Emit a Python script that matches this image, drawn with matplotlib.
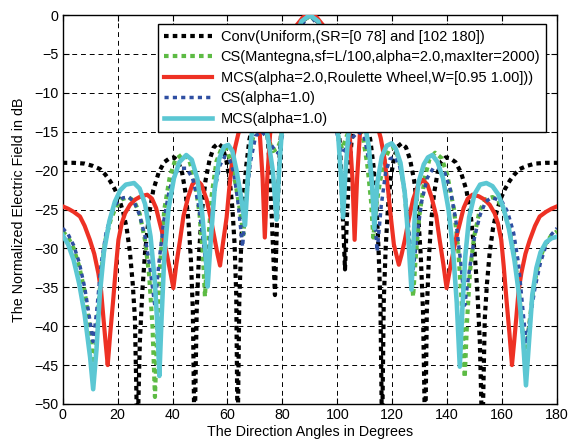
import matplotlib
matplotlib.use("Agg")
import matplotlib.pyplot as plt

plt.rcParams['font.family'] = ['Liberation Sans', 'DejaVu Sans']

# ---- data (angle in degrees, normalized field in dB) ----
conv_deg = [0, 4, 8, 11, 13.6, 15.5, 17.2, 19, 20.5, 22, 23.3, 24.5, 25.5, 26.3, 27.2, 28.1, 29, 30, 31.5, 33, 35, 37, 39, 40.5, 42, 43.5, 44.8, 45.8, 46.7, 47.4, 48, 48.8, 49.6, 50.6, 52, 53.5, 55, 56.6, 58.2, 59.6, 60.8, 61.8, 62.6, 63.2, 63.7, 64.3, 65, 65.8, 66.8, 68, 70, 72, 74.5, 75.3, 75.9, 76.6, 77.3, 78, 79, 80.5, 83, 86, 90,
            94, 97, 99.5, 101, 101.8, 102.8, 103.5, 104.5, 105.5, 108, 110, 112, 113.2, 114.2, 115, 115.7, 116.3, 116.9, 117.6, 118.4, 119.4, 120.7, 122, 123.4, 125, 126.5, 128, 129.4, 130.4, 131.2, 132, 132.6, 133.3, 134.2, 135.2, 136.5, 138, 139.5, 141, 143, 145, 147, 148.5, 150, 151, 151.9, 152.8, 153.7, 154.5, 155.5, 156.7, 158, 159.5, 161, 162.8, 164.5, 166.4, 169, 172, 176, 180]
conv_db = [-19.0, -19.0, -19.1, -19.4, -19.8, -20.5, -21.3, -22.4, -23.6, -25.3, -27.4, -30.5, -34.5, -39, -55, -42, -35.5, -30.5, -25.5, -22.5, -20.2, -18.9, -18.4, -18.3, -18.8, -20.3, -23, -26.5, -31.5, -38, -55, -38, -31, -25.5, -21.3, -18.6, -17, -16.5, -17, -18.7, -21.2, -24.8, -29.5, -36, -55, -37, -29.5, -23.8, -19.5, -16, -13, -12.8, -15, -19, -24, -30, -36.0, -27, -18, -10, -4.5, -1.2, 0,
           -1.2, -4.5, -10, -17, -24, -32.7, -26, -19, -15, -12.8, -13, -16, -19.5, -24, -30, -37, -55, -37, -30, -25, -21, -18.3, -16.9, -16.5, -17, -18.6, -21.3, -25.5, -31, -38, -55, -38, -31.5, -26.5, -23, -20.3, -18.8, -18.3, -18.4, -18.9, -20.2, -22.5, -25.5, -30.5, -35.5, -42, -55, -39, -34.5, -30.5, -27.4, -25.3, -23.6, -22.4, -21.3, -20.5, -19.8, -19.4, -19.1, -19.0, -19.0]

csm_deg = [0, 2, 4, 6, 8, 9.8, 11.3, 12.5, 14, 15.5, 17.5, 19.5, 21.5, 23.9, 26, 28, 30, 31.5, 32.7, 33.6, 34.5, 35.5, 37, 39, 41, 43.9, 46, 48, 49.8, 51, 51.8, 52.8, 54.3, 56, 58, 59.5, 61.3, 63, 64.5, 65.8, 67, 68.5, 70.5, 72.5, 74.5, 76.5, 78.2, 79.5, 81, 84, 87, 90,
           93, 96, 99, 100.5, 101.8, 103.5, 105.5, 107.5, 109.5, 111, 112.3, 113.1, 114.2, 115.6, 117.3, 119, 120.8, 122.5, 124.2, 125.8, 126.8, 127.6, 128.6, 129.8, 131.8, 133.5, 135.6, 138, 140, 142.5, 144, 145.3, 146.4, 147.3, 148.3, 149.8, 151.8, 154, 156.5, 158.5, 160.5, 162.5, 164.5, 166, 167.3, 168.5, 169.8, 171.5, 173.5, 176, 178, 180]
csm_db = [-27.8, -28.6, -30, -32.3, -35.5, -40, -46, -40, -33, -29, -26.3, -24.6, -23.7, -23.4, -23.9, -25.5, -29, -33.5, -40, -49.1, -40, -32, -25, -20.8, -18.6, -17.8, -18.6, -21, -25.5, -30.5, -36.2, -30, -23, -18.8, -17, -17.2, -18.8, -21.8, -25, -28.2, -22.5, -17, -14, -14, -15.5, -17.5, -17.2, -16, -11, -5, -1.2, 0,
          -1.2, -5, -11, -16, -17.2, -15.5, -14, -14, -16, -19.5, -24, -28.6, -24.5, -21.3, -18.6, -17.2, -17, -18.6, -22, -27.5, -32, -36.2, -31, -26, -21, -18.6, -17.7, -18.4, -20.5, -25, -30, -37, -46.6, -39, -33, -28.5, -25.2, -23.7, -23.4, -23.8, -25, -27.3, -31, -35, -40, -45, -40, -35, -31.5, -29.3, -28.3, -27.8]

mcs2_deg = [0, 2, 4, 6.3, 8, 9.9, 11.5, 13, 14, 14.8, 15.6, 16.4, 17.3, 18.4, 19.4, 20.3, 21.5, 22.7, 24.5, 26.5, 28.5, 30.8, 32.5, 34, 35.4, 36.7, 37.8, 38.9, 40.3, 41.4, 42.7, 44, 45.7, 47.2, 48.8, 50.5, 52.4, 54, 55.4, 56.4, 57.3, 58.3, 59.7, 60.6, 61.5, 62.8, 64, 66, 68, 70, 71.8, 72.8, 73.6, 74.5, 75.5, 77, 79, 82, 85, 87.5, 90,
            92.5, 95, 98, 101, 103, 104.5, 105.5, 106.3, 107.2, 108.2, 110, 112, 114, 115.8, 117.2, 118.5, 119.5, 120.6, 122.4, 123.4, 124.6, 126, 127.6, 129.5, 131.2, 132.8, 134.3, 136, 137.3, 138.6, 139.8, 141.1, 142.2, 143.3, 144.6, 146, 147.5, 149.2, 151.5, 153.5, 155.5, 157.3, 158.5, 159.7, 160.6, 161.6, 162.7, 163.6, 164.4, 165.2, 166, 167, 168.5, 170.1, 172, 173.7, 176, 178, 180]
mcs2_db = [-24.6, -24.9, -25.3, -25.9, -27.1, -28.9, -30.7, -33.2, -35.5, -38.8, -42, -45, -41, -36.6, -32.3, -28.9, -26.8, -25.5, -24.4, -23.7, -23.3, -23.1, -23.6, -24.8, -26.8, -28.6, -30.5, -32.5, -35.1, -32, -29, -25.8, -23.4, -21.8, -21.2, -21.8, -23.7, -26.3, -28.9, -30.8, -32.2, -29.5, -26, -22.5, -19.5, -17, -15.2, -13, -12.5, -13.5, -15.4, -21, -28.6, -21, -15.4, -11, -7.5, -3.8, -1.4, -0.3, 0,
           -0.3, -1.4, -3.8, -7.5, -11, -15.4, -21, -28.9, -21, -15.4, -12.5, -12.5, -13.5, -15.8, -18.5, -22.5, -26, -29.5, -32.1, -30.8, -28.9, -26.3, -23.7, -21.8, -21.2, -21.8, -23.4, -25.8, -29, -32, -35.1, -32.5, -30.5, -28.6, -26.8, -24.8, -23.6, -23.1, -23.3, -23.7, -24.4, -25.5, -26.8, -28.9, -32.3, -36.6, -41, -45, -42, -38.8, -35.5, -33.2, -30.7, -28.9, -27.1, -25.9, -25.3, -24.9, -24.6]

cs1_deg = [0, 2, 4, 6, 8, 9.8, 11.1, 12.4, 14, 15.8, 18, 20, 22, 24, 26, 28, 30, 31.8, 33.6, 35, 36.8, 38.8, 41, 43, 45.1, 47.3, 49.3, 51, 52.6, 54, 55.6, 57.3, 59, 60.7, 62.3, 63.8, 65.5, 66.8, 68.3, 70.3, 72.5, 74.5, 76.5, 78.5, 80, 82, 84.5, 87, 90,
           93, 95.5, 98, 100, 101.6, 103.5, 105.5, 107.5, 109.7, 111.7, 113.2, 114.5, 116, 117.6, 119.2, 120.9, 122.6, 124.3, 125.9, 127.4, 129, 130.7, 132.7, 134.9, 137, 139.2, 141.2, 143.2, 145, 146.4, 148.2, 150, 152, 154, 156, 157.4, 160, 162, 164.2, 166, 167.6, 168.8, 170.2, 172, 174, 176, 178, 180]
cs1_db = [-27.4, -28.2, -29.6, -31.8, -35, -39, -42, -38, -32, -28, -25.3, -24, -23.5, -23.4, -24, -25.7, -28.5, -32.5, -37.5, -32, -26.5, -22.5, -20.3, -19.7, -19.7, -21, -24, -28.5, -33.5, -27, -22, -19.3, -18.2, -18.5, -20.2, -24, -29.8, -24, -19, -15.5, -15, -15.8, -17, -17.8, -15.5, -10, -5, -1.3, 0,
          -1.3, -5, -10, -15.5, -17.8, -17, -15.8, -15, -15.5, -19, -24, -30.4, -24.5, -20.2, -18.5, -18.2, -19.3, -22, -27, -33.5, -28.5, -24, -21, -19.7, -19.7, -20.3, -22.5, -26.5, -32, -37.3, -32.5, -28.5, -25.7, -24, -23.5, -23.6, -24, -25.3, -28, -32, -38, -42.3, -39, -35, -31.8, -29.6, -28.2, -27.4]

mcs1_deg = [0, 2, 4, 6, 8, 10, 11.1, 12.3, 13.5, 15, 17, 19, 21, 23, 26, 28, 30, 32, 33.5, 34.5, 35.2, 36, 37, 38.5, 40.5, 42.5, 45, 47, 49, 50.8, 52, 52.8, 53.8, 55.3, 57, 58.8, 60.3, 61.8, 63.3, 65, 66.4, 67.5, 68.8, 70.5, 72.5, 74.5, 76.5, 77.9, 78.8, 79.7, 81, 83, 85, 87, 90,
            93, 95, 97, 99, 100.3, 101.2, 102.1, 103, 104, 106, 108, 110, 111.5, 112.6, 113.5, 114.6, 116.2, 118, 119.8, 121.3, 123, 124.6, 125.9, 127, 128.3, 129.6, 131.5, 133, 134.6, 136.5, 138.5, 140.5, 142.2, 143.5, 144.6, 145.5, 146.6, 148, 150, 152, 154.3, 156.5, 158.5, 160.5, 162.5, 164.5, 166, 167.5, 168.7, 169.8, 171, 172.5, 174, 176, 178, 180]
mcs1_db = [-28.3, -29.5, -31.5, -34.5, -38.5, -44, -48.1, -43, -36, -30.5, -26.5, -24, -22.5, -21.8, -21.6, -22.3, -24.3, -28.5, -34, -40, -46.4, -39, -31, -25, -21, -18.9, -18.0, -18.6, -21, -25.5, -30.5, -34.9, -29.5, -22.5, -18.5, -16.9, -16.7, -17.5, -20, -23.5, -27.0, -20.5, -15.4, -12.8, -12.8, -15.2, -20, -26.3, -20, -15.4, -10, -5.5, -2.5, -0.8, 0,
           -0.8, -2.5, -5.5, -10, -15.4, -20, -26.0, -20, -15.5, -12.5, -12.5, -14, -17, -21.5, -27.4, -21.5, -18.2, -16.8, -16.5, -17.2, -19, -23, -29, -35.3, -25.1, -21.5, -19.2, -18.3, -18.0, -18.9, -21, -25, -30.5, -37, -45.2, -38, -31, -26, -23, -21.8, -21.6, -22, -23, -24.8, -27.5, -31.5, -35.5, -41, -47.6, -42, -36, -32.5, -30.5, -29.2, -28.7, -28.5]

labels = ['Conv(Uniform,(SR=[0 78] and [102 180])',
          'CS(Mantegna,sf=L/100,alpha=2.0,maxIter=2000)',
          'MCS(alpha=2.0,Roulette Wheel,W=[0.95 1.00]))',
          'CS(alpha=1.0)',
          'MCS(alpha=1.0)']
x_ticks = list(range(0, 181, 20))
y_ticks = list(range(-50, 1, 5))

fig = plt.figure(figsize=(5.74, 4.44), dpi=100)
ax = fig.add_axes([0.1092, 0.0901, 0.9704 - 0.1092, 0.9662 - 0.0901])

dot = (0, (1.1, 1.0))
ax.plot(conv_deg, conv_db, color='black', lw=3.0, linestyle=dot, dash_capstyle='butt', label=labels[0], zorder=3)
ax.plot(csm_deg, csm_db, color='#5dbb44', lw=3.0, linestyle=dot, dash_capstyle='butt', label=labels[1], zorder=3)
ax.plot(mcs2_deg, mcs2_db, color='#ee3124', lw=3.0, linestyle='-', label=labels[2], zorder=3)
ax.plot(cs1_deg, cs1_db, color='#2f4fa2', lw=2.5, linestyle=(0, (1.2, 1.2)), dash_capstyle='butt', label=labels[3], zorder=3)
ax.plot(mcs1_deg, mcs1_db, color='#5bc7d3', lw=3.3, linestyle='-', label=labels[4], zorder=3)

ax.set_xlim(0, 180)
ax.set_ylim(-50, 0)
ax.set_xticks(x_ticks)
ax.set_yticks(y_ticks)
ax.tick_params(direction='in', top=True, right=True, labelsize=10.3, length=4, width=0.8, pad=3)
for s in ax.spines.values():
    s.set_linewidth(1.0)
ax.grid(True, color='black', linestyle=(0, (5, 4)), linewidth=0.7)
ax.set_axisbelow(True)
ax.set_xlabel('The Direction Angles in Degrees', fontsize=10.3, labelpad=2)
ax.set_ylabel('The Normalized Electric Field in dB', fontsize=10.3, labelpad=6)

leg = ax.legend(loc='upper right', bbox_to_anchor=(0.978, 0.977), borderaxespad=0,
                fontsize=10.5, handlelength=3.3, handletextpad=0.6, labelspacing=0.45,
                fancybox=False, framealpha=1, edgecolor='black', borderpad=0.4)
leg.get_frame().set_linewidth(1.0)
leg.set_zorder(5)

fig.savefig('out.png', dpi=100)
